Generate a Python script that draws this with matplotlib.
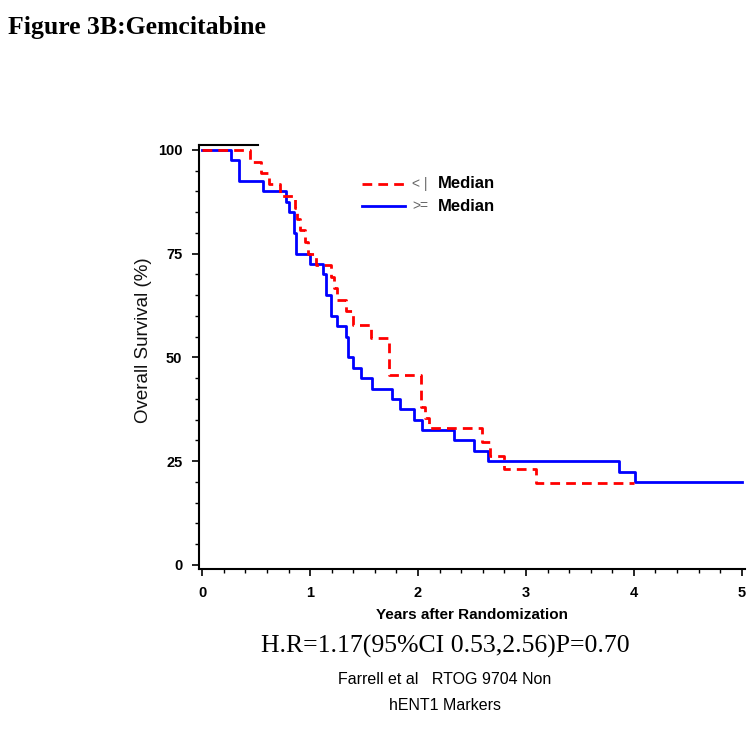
import matplotlib.pyplot as plt
from matplotlib.ticker import MultipleLocator

# Kaplan-Meier steps
blue_t = [0, 0.27, 0.34, 0.56, 0.78, 0.80, 0.85, 0.87, 1.00, 1.12, 1.15, 1.19, 1.25,
          1.33, 1.35, 1.40, 1.47, 1.57, 1.76, 1.83, 1.96, 2.04, 2.33, 2.52, 2.65,
          3.86, 4.01, 5.0]
blue_s = [100, 97.5, 92.5, 90, 87.5, 85, 80, 75, 72.5, 70, 65, 60, 57.5,
          55, 50, 47.5, 45, 42.5, 40, 37.5, 35, 32.5, 30, 27.5, 25,
          22.5, 20, 20]

red_t = [0, 0.44, 0.54, 0.62, 0.72, 0.86, 0.88, 0.91, 0.95, 0.98, 1.05, 1.19, 1.22,
         1.25, 1.33, 1.40, 1.56, 1.73, 2.03, 2.06, 2.10, 2.59, 2.67, 2.80, 3.09, 4.0]
red_s = [100, 97.2, 94.4, 91.7, 88.9, 86.1, 83.3, 80.6, 77.8, 75.0, 72.2, 69.4, 66.7,
         63.9, 61.1, 57.8, 54.6, 45.8, 38.0, 35.5, 33.1, 29.7, 26.3, 23.1, 19.8, 19.8]

groups = ['< |', '>=']
x_ticks = [0, 1, 2, 3, 4, 5]
y_ticks = [0, 25, 50, 75, 100]

fig = plt.figure(figsize=(7.54, 7.33), dpi=100)
ax = fig.add_axes([0.264, 0.2237, 0.724, 0.5785])

ax.step(blue_t, blue_s, where='post', color='#0000ff', lw=2.0, zorder=3)
ax.step(red_t, red_s, where='post', color='#ff0000', lw=2.0,
        linestyle=(0, (3.5, 2.2)), zorder=4)

ax.set_xlim(-0.03, 5.03)
ax.set_ylim(-1.0, 101.2)
ax.set_xticks(x_ticks)
ax.set_yticks(y_ticks)
ax.xaxis.set_minor_locator(MultipleLocator(0.2))
ax.yaxis.set_minor_locator(MultipleLocator(5))
ax.tick_params(which='major', direction='out', length=5, width=1.2, pad=7)
ax.tick_params(which='minor', direction='out', length=3, width=1.0)
for lab in ax.get_xticklabels() + ax.get_yticklabels():
    lab.set_fontfamily('Liberation Sans')
    lab.set_fontweight('bold')
    lab.set_fontsize(10.5)

ax.spines['right'].set_visible(False)
ax.spines['top'].set_bounds(-0.03, 0.52)
for sp in ax.spines.values():
    sp.set_linewidth(1.5)

ax.set_xlabel('Years after Randomization', fontfamily='Liberation Sans',
              fontweight='bold', fontsize=11, labelpad=6)
fig.text(143 / 754, 1 - 340 / 733, 'Overall Survival (%)', rotation=90,
         fontfamily='Liberation Sans', fontsize=13.5, color='#111111',
         ha='center', va='center')

# legend drawn by hand
ax.plot([0.2985, 0.377], [0.908, 0.908], transform=ax.transAxes, color='#ff0000',
        lw=2.0, linestyle=(0, (3.5, 2.2)), clip_on=False)
ax.plot([0.2985, 0.377], [0.856, 0.856], transform=ax.transAxes, color='#0000ff',
        lw=2.0, clip_on=False)
for yy, g in zip([0.908, 0.856], groups):
    ax.text(0.39, yy, g, transform=ax.transAxes, va='center', ha='left',
            fontfamily='Liberation Sans', fontsize=10, color='#666666')
    ax.text(0.438, yy, 'Median', transform=ax.transAxes, va='center', ha='left',
            fontfamily='Liberation Sans', fontsize=12, fontweight='bold')

fig.text(0.011, 0.978, 'Figure 3B:Gemcitabine', fontfamily='Liberation Serif',
         fontweight='bold', fontsize=18.5, va='top', ha='left')
fig.text(0.59, 1 - 646 / 733, 'H.R=1.17(95%CI 0.53,2.56)P=0.70',
         fontfamily='Liberation Serif', fontsize=18.5, va='center', ha='center')
fig.text(0.59, 1 - 680 / 733, 'Farrell et al   RTOG 9704 Non', fontfamily='Liberation Sans',
         fontsize=11.5, va='center', ha='center')
fig.text(0.59, 1 - 705 / 733, 'hENT1 Markers', fontfamily='Liberation Sans',
         fontsize=11.5, va='center', ha='center')

fig.savefig('out.png', dpi=100)
